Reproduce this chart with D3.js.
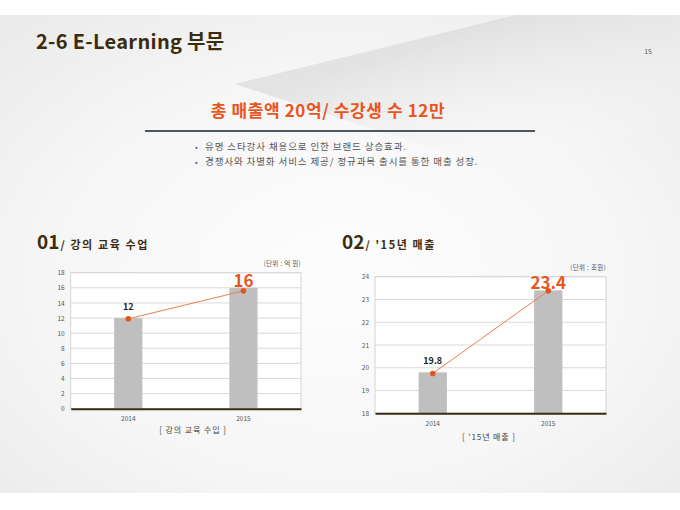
<!DOCTYPE html>
<html>
<head>
<meta charset="utf-8">
<script src="https://cdn.jsdelivr.net/npm/d3@7/dist/d3.min.js"></script>
<style>
  html, body { margin: 0; padding: 0; background: #ffffff; }
  svg { display: block; }
  text { font-family: "Noto Sans CJK KR", "Noto Sans", sans-serif; }
</style>
</head>
<body>
<svg id="chart" width="680" height="510"></svg>
<script>
// ---------- data ----------
const categories = ["2014", "2015"];
const lectureBars = [12, 16];
const lectureLine = [11.9, 15.6];
const lectureTicks = [0, 2, 4, 6, 8, 10, 12, 14, 16, 18];
const salesBars = [19.8, 23.4];
const salesLine = [19.75, 23.38];
const salesTicks = [18, 19, 20, 21, 22, 23, 24];
const bullets = [
  "유명 스타강사 채용으로 인한 브랜드 상승효과.",
  "경쟁사와 차별화 서비스 제공/ 정규과목 출시를 통한 매출 성장."
];

const svg = d3.select("#chart");
const defs = svg.append("defs");

// ---------- background ----------
const bg = defs.append("radialGradient").attr("id", "bgGrad")
  .attr("cx", "0.5").attr("cy", "0.55").attr("r", "0.7");
bg.append("stop").attr("offset", "0").attr("stop-color", "#fdfdfd");
bg.append("stop").attr("offset", "0.6").attr("stop-color", "#f6f6f6");
bg.append("stop").attr("offset", "1").attr("stop-color", "#ebebeb");

const wedge = defs.append("linearGradient").attr("id", "wedgeGrad")
  .attr("gradientUnits", "userSpaceOnUse")
  .attr("x1", 450).attr("y1", 35).attr("x2", 500).attr("y2", 190);
wedge.append("stop").attr("offset", "0").attr("stop-color", "#d6d6d6").attr("stop-opacity", 0.6);
wedge.append("stop").attr("offset", "1").attr("stop-color", "#ffffff").attr("stop-opacity", 0);

svg.append("rect").attr("x", 0).attr("y", 15).attr("width", 680).attr("height", 478)
  .attr("fill", "url(#bgGrad)");
svg.append("path")
  .attr("d", d3.line()([[516, 15], [680, 15], [680, 230], [235, 84]]) + "Z")
  .attr("fill", "url(#wedgeGrad)");

// ---------- headings ----------
svg.append("text").attr("x", 36).attr("y", 49)
  .attr("font-size", 20).attr("font-weight", "bold").attr("fill", "#3b2c10")
  .attr("letter-spacing", 0.3)
  .text("2-6 E-Learning 부문");
svg.append("text").attr("x", 652).attr("y", 54).attr("text-anchor", "end")
  .attr("font-size", 7).attr("fill", "#555").text("15");

svg.append("text").attr("x", 328).attr("y", 117).attr("text-anchor", "middle")
  .attr("font-size", 17).attr("font-weight", "bold").attr("fill", "#e8561e")
  .attr("letter-spacing", 0.6)
  .text("총 매출액 20억/ 수강생 수 12만");
svg.append("line").attr("x1", 145).attr("x2", 535).attr("y1", 131).attr("y2", 131)
  .attr("stroke", "#4d5762").attr("stroke-width", 2);

bullets.forEach((b, i) => {
  const y = 150 + i * 15;
  svg.append("text").attr("x", 195).attr("y", y).attr("font-size", 8).attr("fill", "#666").text("•");
  svg.append("text").attr("x", 205).attr("y", y).attr("font-size", 9.5).attr("fill", "#555")
    .attr("letter-spacing", 0.9).text(b);
});

// ---------- chart builder ----------
function drawChart(o) {
  const g = svg.append("g");
  // section heading
  const h = g.append("text").attr("x", o.headX).attr("y", 249)
    .attr("font-weight", "bold").attr("fill", "#3b2c10");
  h.append("tspan").attr("font-size", 19).text(o.num);
  h.append("tspan").attr("font-size", 11).attr("dx", 1).attr("letter-spacing", 1.6).text(o.heading);

  g.append("text").attr("x", o.right).attr("y", o.unitY).attr("text-anchor", "end")
    .attr("font-size", 6.5).attr("fill", "#555").attr("letter-spacing", 0.3).text(o.unit);

  const x = d3.scaleBand().domain(categories).range([o.left, o.right])
    .paddingInner(0.755).paddingOuter(0.3775);
  const y = d3.scaleLinear().domain(o.domain).range([o.bottom, o.top]);

  g.append("rect").attr("x", o.left).attr("y", o.top)
    .attr("width", o.right - o.left).attr("height", o.bottom - o.top)
    .attr("fill", "#ffffff").attr("stroke", "#d4d4d4").attr("stroke-width", 1);

  // grid
  g.selectAll(".grid").data(o.ticks).join("line")
    .attr("x1", o.left).attr("x2", o.right)
    .attr("y1", d => y(d)).attr("y2", d => y(d))
    .attr("stroke", "#d9d9d9").attr("stroke-width", 1);

  // y axis labels
  const ya = g.append("g").attr("transform", `translate(${o.left},0)`)
    .call(d3.axisLeft(y).tickValues(o.ticks).tickFormat(d3.format("d")).tickSize(0).tickPadding(6));
  ya.select(".domain").remove();
  ya.selectAll("text").attr("font-size", 6.5).attr("fill", "#555")
    .attr("font-family", "\"Noto Sans CJK KR\", sans-serif");

  // bars
  g.selectAll(".bar").data(o.bars).join("rect")
    .attr("x", (d, i) => x(categories[i])).attr("width", x.bandwidth())
    .attr("y", d => y(d)).attr("height", d => o.bottom - y(d))
    .attr("fill", "#bfbfbf");

  // x axis
  const xa = g.append("g").attr("transform", `translate(0,${o.bottom})`)
    .call(d3.axisBottom(x).tickSize(0).tickPadding(8));
  xa.select(".domain").attr("stroke", "#3d2d12").attr("stroke-width", 2);
  xa.selectAll("text").attr("font-size", 6.5).attr("fill", "#555")
    .attr("font-family", "\"Noto Sans CJK KR\", sans-serif");

  // line
  const cx = i => x(categories[i]) + x.bandwidth() / 2;
  g.append("path").datum(o.line)
    .attr("d", d3.line().x((d, i) => cx(i)).y(d => y(d)))
    .attr("fill", "none").attr("stroke", "#ec7d4d").attr("stroke-width", 1);
  g.selectAll(".dot").data(o.line).join("circle")
    .attr("cx", (d, i) => cx(i)).attr("cy", d => y(d)).attr("r", 2.8)
    .attr("fill", "#e2561c");

  // data labels
  g.append("text").attr("x", cx(0)).attr("y", y(o.bars[0]) - 8).attr("text-anchor", "middle")
    .attr("font-size", 9).attr("font-weight", "bold").attr("fill", "#222")
    .text(o.bars[0]);
  g.append("text").attr("x", cx(1)).attr("y", y(o.bars[1]) - 1).attr("text-anchor", "middle")
    .attr("font-size", 17).attr("font-weight", "bold").attr("fill", "#e8561e")
    .text(o.bars[1]);

  // caption
  g.append("text").attr("x", o.captionX).attr("y", o.captionY).attr("text-anchor", "middle")
    .attr("font-size", 8).attr("fill", "#444").attr("letter-spacing", 0.9).text(o.caption);
}

drawChart({
  num: "01", heading: "/ 강의 교육 수업", headX: 37,
  unit: "(단위 : 억 원)", unitY: 266,
  left: 70.7, right: 301, top: 272.7, bottom: 408.7,
  domain: [0, 18], ticks: lectureTicks,
  bars: lectureBars, line: lectureLine,
  caption: "[ 강의 교육 수입 ]", captionX: 193, captionY: 433
});
drawChart({
  num: "02", heading: "/ '15년 매출", headX: 342,
  unit: "(단위 : 조원)", unitY: 270,
  left: 375, right: 606, top: 276.7, bottom: 413.3,
  domain: [18, 24], ticks: salesTicks,
  bars: salesBars, line: salesLine,
  caption: "[ '15년 매출 ]", captionX: 489, captionY: 440
});
</script>
</body>
</html>
